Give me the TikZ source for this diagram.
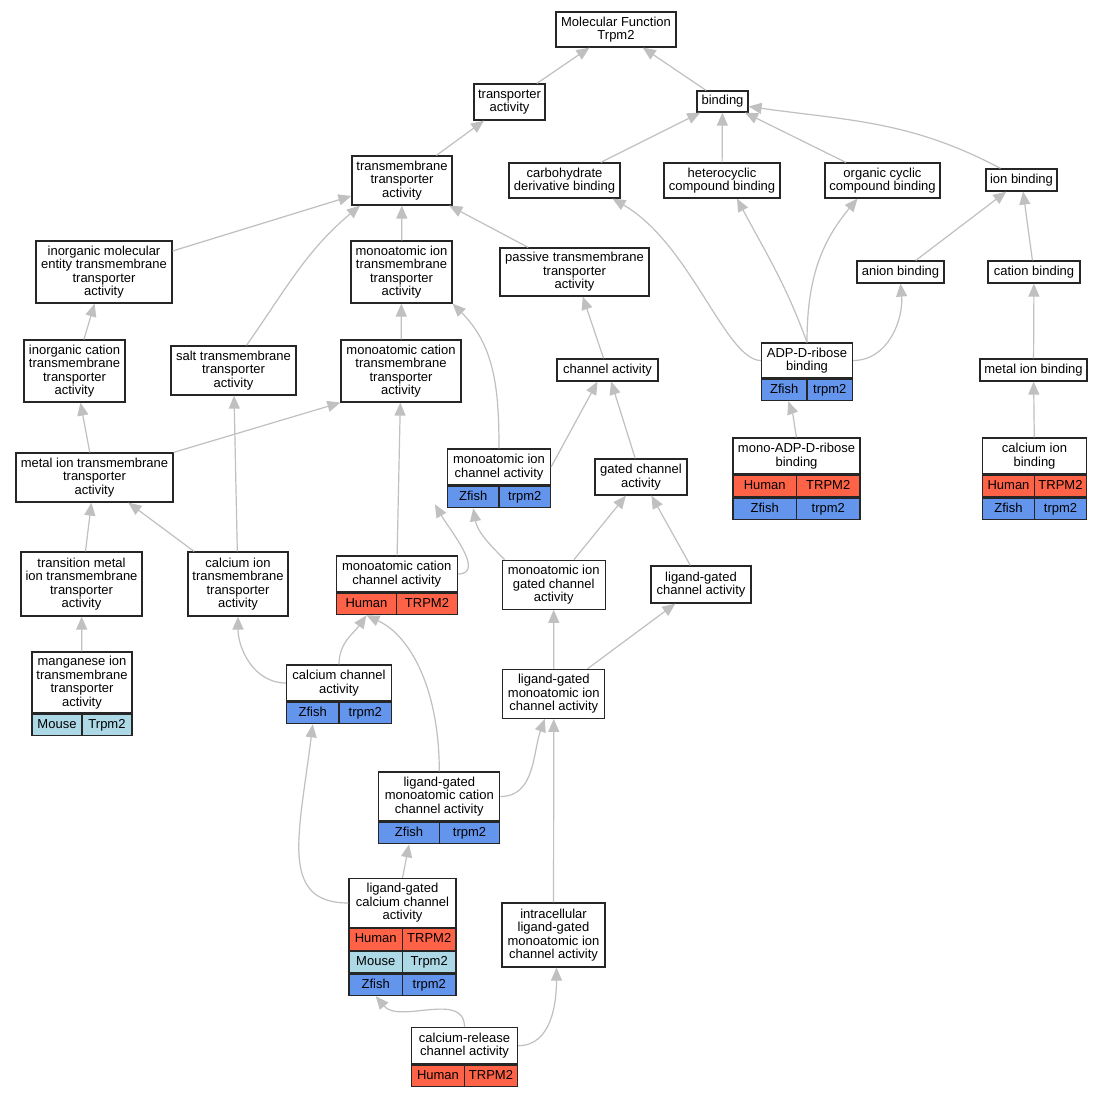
\documentclass[tikz,border=0pt]{standalone}
\usepackage{fontspec}
\setmainfont{Liberation Sans}
\usetikzlibrary{arrows.meta}
\definecolor{humanred}{HTML}{FF6347}
\definecolor{mouseblue}{HTML}{ADD8E6}
\definecolor{zfishblue}{HTML}{6495ED}
\definecolor{edgegray}{HTML}{C0C0C0}
\tikzset{
  term/.style 2 args={draw=black!85, line width=1.2pt, fill=white, inner sep=0pt, align=center,
    minimum width=#1pt, minimum height=#2pt, font=\fontsize{13}{13.5}\selectfont},
  cell/.style={draw=black!85, line width=1.2pt, inner sep=0pt, minimum height=21.5pt,
    text height=9.5pt, text depth=2.5pt, font=\fontsize{13}{13.5}\selectfont},
  human/.style={cell, fill=humanred, minimum width=#1pt},
  mouse/.style={cell, fill=mouseblue, minimum width=#1pt},
  zfish/.style={cell, fill=zfishblue, minimum width=#1pt},
  isa/.style={draw=edgegray, line width=1.2pt, -{Triangle[length=13pt,width=11pt]}},
}
\begin{document}
\begin{tikzpicture}[x=1pt,y=1pt]
\fill[white] (0,0) rectangle (1103,-1096);
\useasboundingbox (0,0) rectangle (1103,-1096);
% terms
\node[term={120}{35}] (mf) at (616,-29.5) {Molecular Function\\Trpm2};
\node[term={71}{36}] (transp) at (509.5,-102) {transporter\\activity};
\node[term={51}{21}] (binding) at (722.5,-101.5) {binding};
\node[term={100}{49}] (tmtransp) at (402,-180.5) {transmembrane\\transporter\\activity};
\node[term={111}{35}] (carbo) at (564.5,-180.5) {carbohydrate\\derivative binding};
\node[term={116}{35}] (hetero) at (722,-180.5) {heterocyclic\\compound binding};
\node[term={115}{35}] (orgcyc) at (882.5,-180.5) {organic cyclic\\compound binding};
\node[term={71}{22}] (ionbind) at (1021.5,-180) {ion binding};
\node[term={136}{62}] (inorgmol) at (104,-272) {inorganic molecular\\entity transmembrane\\transporter\\activity};
\node[term={101}{62}] (monoiontm) at (401.5,-272) {monoatomic ion\\transmembrane\\transporter\\activity};
\node[term={149}{48}] (passive) at (574.5,-272) {passive transmembrane\\transporter\\activity};
\node[term={87}{22}] (anion) at (900.5,-272) {anion binding};
\node[term={92}{22}] (cation) at (1034,-272) {cation binding};
\node[term={101}{62}] (inorgcat) at (74.5,-371) {inorganic cation\\transmembrane\\transporter\\activity};
\node[term={125}{49}] (salt) at (233.5,-370.5) {salt transmembrane\\transporter\\activity};
\node[term={120}{62}] (monocattm) at (401,-371) {monoatomic cation\\transmembrane\\transporter\\activity};
\node[term={101}{22}] (channel) at (607.5,-370) {channel activity};
\node[term={91}{35}] (adpr) at (807,-360.5) {ADP-D-ribose\\binding};
\node[term={107}{22}] (metalbind) at (1033.5,-370) {metal ion binding};
\node[term={157}{49}] (metaltm) at (94.5,-477.5) {metal ion transmembrane\\transporter\\activity};
\node[term={103}{36}] (monoionch) at (499,-467) {monoatomic ion\\channel activity};
\node[term={92}{36}] (gated) at (641,-477) {gated channel\\activity};
\node[term={127}{36}] (monoadpr) at (796.5,-456) {mono-ADP-D-ribose\\binding};
\node[term={104}{36}] (calbind) at (1034.5,-456) {calcium ion\\binding};
\node[term={121}{64}] (transmet) at (81.5,-584) {transition metal\\ion transmembrane\\transporter\\activity};
\node[term={100}{64}] (caltm) at (238,-584) {calcium ion\\transmembrane\\transporter\\activity};
\node[term={121}{36}] (monocatch) at (396.7,-574) {monoatomic cation\\channel activity};
\node[term={103}{49}] (monoiongated) at (553.7,-584.7) {monoatomic ion\\gated channel\\activity};
\node[term={100}{37}] (ligch) at (701,-584.5) {ligand-gated\\channel activity};
\node[term={100}{61}] (mangan) at (82,-682.5) {manganese ion\\transmembrane\\transporter\\activity};
\node[term={105}{36}] (calch) at (339,-683) {calcium channel\\activity};
\node[term={102}{49}] (ligmonoion) at (553.8,-693.8) {ligand-gated\\monoatomic ion\\channel activity};
\node[term={121}{49}] (ligmonocat) at (439.3,-796.5) {ligand-gated\\monoatomic cation\\channel activity};
\node[term={107}{49}] (ligcal) at (402.5,-903) {ligand-gated\\calcium channel\\activity};
\node[term={103}{64}] (intra) at (553.5,-935) {intracellular\\ligand-gated\\monoatomic ion\\channel activity};
\node[term={106}{36}] (calrel) at (464.5,-1045.7) {calcium-release\\channel activity};
% gene rows
\node[zfish=45.5, anchor=north west] (adpr-z1) at (adpr.south west) {Zfish};
\node[zfish=45.5, anchor=north east] (adpr-z2) at (adpr.south east) {trpm2};
\node[zfish=51.5, anchor=north west] (monoionch-z1) at (monoionch.south west) {Zfish};
\node[zfish=51.5, anchor=north east] (monoionch-z2) at (monoionch.south east) {trpm2};
\node[human=63.5, anchor=north west] (monoadpr-h1) at (monoadpr.south west) {Human};
\node[human=63.5, anchor=north east] (monoadpr-h2) at (monoadpr.south east) {TRPM2};
\node[zfish=63.5, anchor=north west] (monoadpr-z1) at (monoadpr-h1.south west) {Zfish};
\node[zfish=63.5, anchor=north east] (monoadpr-z2) at (monoadpr-h2.south east) {trpm2};
\node[human=52, anchor=north west] (calbind-h1) at (calbind.south west) {Human};
\node[human=52, anchor=north east] (calbind-h2) at (calbind.south east) {TRPM2};
\node[zfish=52, anchor=north west] (calbind-z1) at (calbind-h1.south west) {Zfish};
\node[zfish=52, anchor=north east] (calbind-z2) at (calbind-h2.south east) {trpm2};
\node[human=60.5, anchor=north west] (monocatch-h1) at (monocatch.south west) {Human};
\node[human=60.5, anchor=north east] (monocatch-h2) at (monocatch.south east) {TRPM2};
\node[mouse=50, anchor=north west] (mangan-m1) at (mangan.south west) {Mouse};
\node[mouse=50, anchor=north east] (mangan-m2) at (mangan.south east) {Trpm2};
\node[zfish=52.5, anchor=north west] (calch-z1) at (calch.south west) {Zfish};
\node[zfish=52.5, anchor=north east] (calch-z2) at (calch.south east) {trpm2};
\node[zfish=60.5, anchor=north west] (ligmonocat-z1) at (ligmonocat.south west) {Zfish};
\node[zfish=60.5, anchor=north east] (ligmonocat-z2) at (ligmonocat.south east) {trpm2};
\node[human=53.5, anchor=north west] (ligcal-h1) at (ligcal.south west) {Human};
\node[human=53.5, anchor=north east] (ligcal-h2) at (ligcal.south east) {TRPM2};
\node[mouse=53.5, anchor=north west] (ligcal-m1) at (ligcal-h1.south west) {Mouse};
\node[mouse=53.5, anchor=north east] (ligcal-m2) at (ligcal-h2.south east) {Trpm2};
\node[zfish=53.5, anchor=north west] (ligcal-z1) at (ligcal-m1.south west) {Zfish};
\node[zfish=53.5, anchor=north east] (ligcal-z2) at (ligcal-m2.south east) {trpm2};
\node[human=53, anchor=north west] (calrel-h1) at (calrel.south west) {Human};
\node[human=53, anchor=north east] (calrel-h2) at (calrel.south east) {TRPM2};
% is_a edges
\draw[isa] (transp) -- (mf);
\draw[isa] (binding) -- (mf);
\draw[isa] (tmtransp) -- (transp);
\draw[isa] (carbo) -- (binding);
\draw[isa] (hetero) -- (binding);
\draw[isa] (orgcyc) -- (binding);
\draw[isa] ([xshift=-21pt]ionbind.north) to[out=152,in=-8] ([yshift=-5pt]binding.east);
\draw[isa] (inorgmol) -- (tmtransp);
\draw[isa] (monoiontm) -- (tmtransp);
\draw[isa] (passive) -- (tmtransp);
\draw[isa] ([xshift=13pt]salt.north) to[out=55,in=-140] ([xshift=-42pt]tmtransp.south);
\draw[isa] (anion) -- (ionbind);
\draw[isa] (cation) -- (ionbind);
\draw[isa] (inorgcat) -- (inorgmol);
\draw[isa] (monocattm) -- (monoiontm);
\draw[isa] (monoionch.north) to[out=90,in=-45] (monoiontm.south east);
\draw[isa] (channel) -- (passive);
\draw[isa] (adpr.west) to[out=180,in=-30,out distance=35pt,in distance=90pt] ([xshift=48pt]carbo.south);
\draw[isa] (adpr.north) to[out=110,in=-62] ([xshift=15pt]hetero.south);
\draw[isa] (adpr.north) to[out=90,in=-130] ([xshift=-25pt]orgcyc.south);
\draw[isa] (adpr.east) to[out=0,in=-85] (anion.south);
\draw[isa] (metalbind) -- (cation);
\draw[isa] (metaltm) -- (inorgcat);
\draw[isa] (metaltm.north east) -- (monocattm.south west);
\draw[isa] (monoionch.east) -- ([xshift=-10pt]channel.south);
\draw[isa] (gated) -- (channel);
\draw[isa] (monoadpr.north) to[out=100,in=-70] ([xshift=4pt]adpr-z1.south);
\draw[isa] (calbind) -- (metalbind);
\draw[isa] (transmet) -- (metaltm);
\draw[isa] (caltm) -- (metaltm);
\draw[isa] (caltm) -- (salt);
\draw[isa] (monocatch) -- (monocattm);
\draw[isa] (monocatch.east) to[out=0,in=-60] ([xshift=-12pt,yshift=4pt]monoionch-z1.south west);
\draw[isa] ([xshift=3pt]monoiongated.north west) to[out=135,in=-80] (monoionch-z1.south);
\draw[isa] (monoiongated) -- (gated);
\draw[isa] (ligch) -- (gated);
\draw[isa] (mangan) -- (transmet);
\draw[isa] (calch.west) to[out=180,in=-90] (caltm.south);
\draw[isa] (calch.north) to[out=90,in=-125] (monocatch-h1.south);
\draw[isa] (ligmonoion) -- (monoiongated);
\draw[isa] (ligmonoion) -- (ligch);
\draw[isa] (ligmonocat.north) to[out=90,in=-25,out distance=80pt,in distance=50pt] (monocatch-h1.south);
\draw[isa] (ligmonocat.east) to[out=0,in=-110] ([xshift=-9pt]ligmonoion.south);
\draw[isa] (ligcal.west) to[out=180,in=-97,out distance=70pt,in distance=110pt] (calch-z1.south);
\draw[isa] (ligcal.north) -- (ligmonocat-z1.south);
\draw[isa] (intra) -- (ligmonoion);
\draw[isa] (calrel.north) to[out=90,in=-50] (ligcal-z1.south);
\draw[isa] (calrel.east) to[out=0,in=-90] ([xshift=3pt]intra.south);
\end{tikzpicture}
\end{document}
